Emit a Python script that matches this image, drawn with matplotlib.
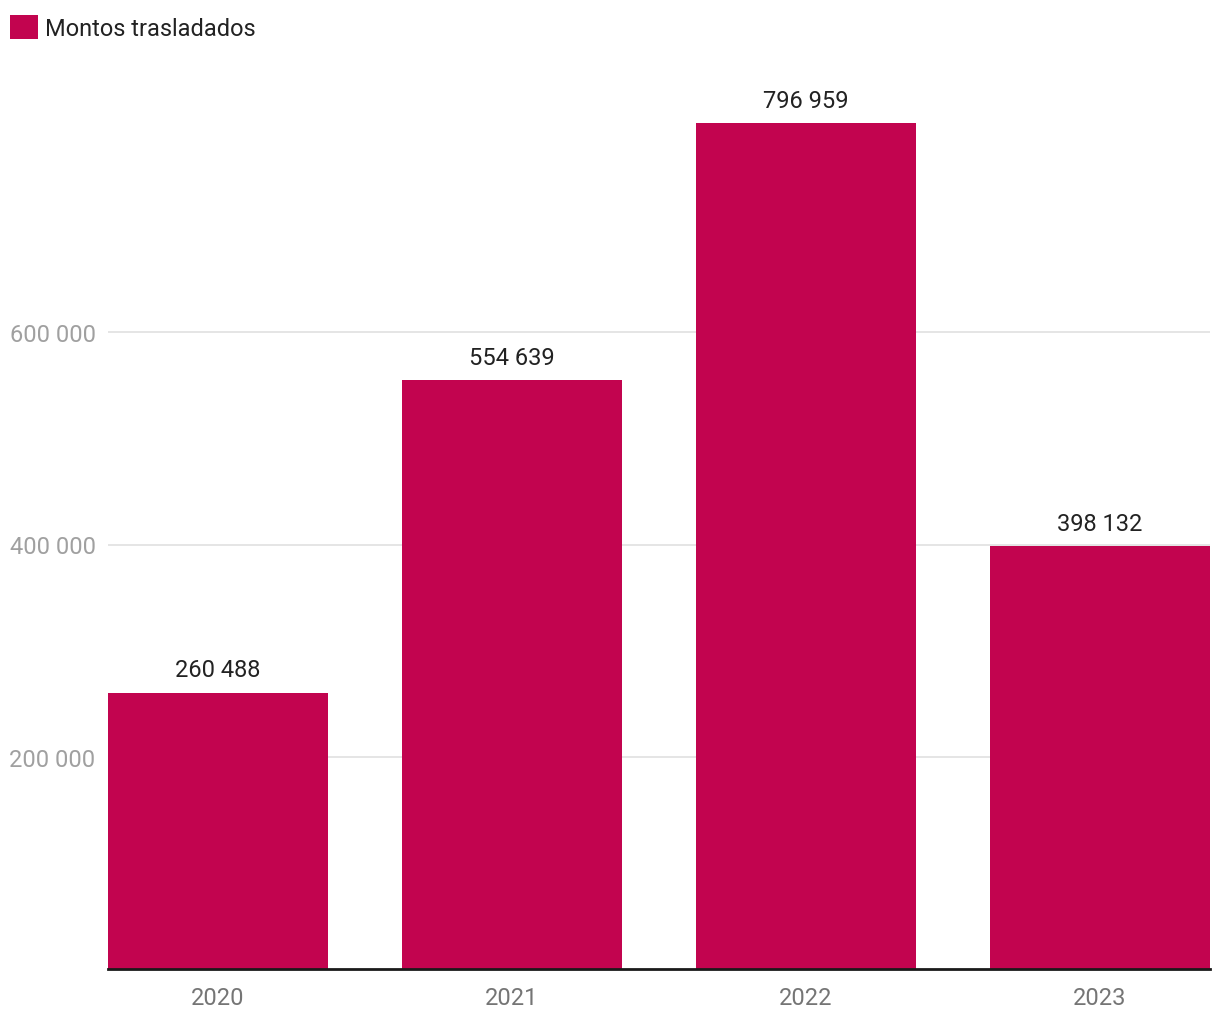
import matplotlib.pyplot as plt

plt.rcParams['font.family'] = ['Roboto', 'DejaVu Sans']

years = ['2020', '2021', '2022', '2023']
montos = [260488, 554639, 796959, 398132]
yticks = [200000, 400000, 600000]

color_bar = '#C2044F'
bar_w = 0.748

def fmt(v):
    return f"{v:,}".replace(",", " ")

fig = plt.figure(figsize=(12.2, 10.2), dpi=100)
ax = fig.add_axes([108/1220, 50/1020, 1102/1220, 849/1020])

x = range(len(years))
bars = ax.bar(x, montos, width=bar_w, color=color_bar, label='Montos trasladados', zorder=3)

for xi, v in zip(x, montos):
    ax.annotate(fmt(v), (xi, v), xytext=(0, 8), textcoords='offset points',
                ha='center', va='bottom', fontsize=17, color='#222222')

ax.set_xlim(-bar_w/2, 3 + bar_w/2)
ax.set_ylim(0, 800000)
ax.set_xticks(list(x))
ax.set_xticklabels(years, fontsize=17, color='#757575')
ax.set_yticks(yticks)
ax.set_yticklabels([fmt(t) for t in yticks], fontsize=17, color='#a0a0a0')
ax.tick_params(axis='both', length=0)
ax.tick_params(axis='x', pad=12)
ax.tick_params(axis='y', pad=9)

ax.grid(axis='y', color='#e3e3e3', linewidth=1.3, zorder=0)
for s in ['top', 'right', 'left']:
    ax.spines[s].set_visible(False)
ax.spines['bottom'].set_color('#1a1a1a')
ax.spines['bottom'].set_linewidth(2)
ax.spines['bottom'].set_zorder(4)

fig.legend(loc='upper left', bbox_to_anchor=(10/1220, 1 - 16/1020), frameon=False,
           fontsize=17, handlelength=1.2, handleheight=1.2, handletextpad=0.28,
           borderpad=0, borderaxespad=0, labelcolor='#222222')

fig.savefig('out.png', dpi=100)
